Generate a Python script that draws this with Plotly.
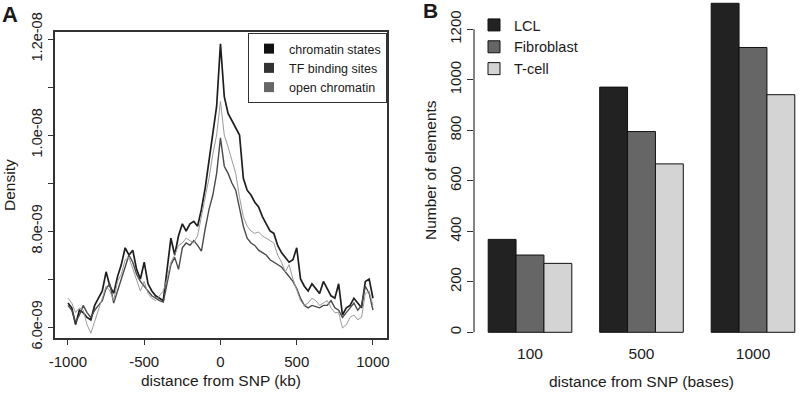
import numpy as np
import plotly.graph_objects as go

# ---------------- Panel A data (density, in units of 1e-9) ----------------
distance_kb = list(range(-1000, 1001, 25))

density_chromatin_states = [
    6.5, 6.4, 6.05, 6.35, 6.3, 6.2, 6.15, 6.45, 6.6, 6.75,
    7.15, 6.85, 6.7, 7.05, 7.3, 7.65, 7.5, 7.6, 7.2, 7.0,
    7.35, 6.9, 6.75, 6.65, 6.6, 6.55, 7.2, 7.85, 7.5, 7.9,
    8.15, 8.0, 8.15, 8.2, 8.1, 8.45, 8.9, 9.5, 10.1, 10.6,
    11.9,
    10.8, 10.45, 10.3, 10.15, 10.0, 9.1, 8.85, 8.75, 8.6, 8.5,
    8.3, 8.15, 8.0, 7.95, 7.7, 7.55, 7.45, 7.35, 7.4, 7.65,
    7.0, 6.85, 6.75, 6.9, 6.8, 6.7, 6.95, 6.8, 6.65, 6.6,
    6.9, 6.25, 6.4, 6.45, 6.6, 6.5, 6.4, 6.95, 7.0, 6.6,
]

density_open_chromatin = [
    6.6, 6.5, 6.3, 6.4, 6.35, 6.05, 5.87, 6.1, 6.35, 6.6,
    6.85, 6.75, 6.55, 6.95, 7.1, 7.4, 7.45, 7.2, 7.0, 6.75,
    6.95, 6.7, 6.6, 6.55, 6.65, 6.75, 7.0, 7.35, 7.5, 7.7,
    7.75, 7.85, 7.8, 7.75, 7.9, 8.3, 8.7, 9.1, 9.6, 10.0,
    10.7,
    10.0, 9.75, 9.5, 9.2, 8.7, 8.3, 8.1, 8.0, 7.95, 7.98,
    7.9, 7.85, 7.8, 7.75, 7.5, 7.35, 7.15, 7.3, 7.0, 6.75,
    6.55, 6.45, 6.5, 6.6, 6.55, 6.45, 6.5, 6.55, 6.4, 6.3,
    6.3, 5.98, 6.05, 6.2, 6.25, 6.15, 6.2, 6.7, 6.75, 6.45,
]

density_tf_binding_sites = [
    6.45, 6.35, 6.1, 6.25, 6.45, 6.3, 6.2, 6.35, 6.45, 6.55,
    6.8, 6.9, 6.5, 6.75, 7.05, 7.3, 7.5, 7.35, 7.1, 6.95,
    6.85, 6.75, 6.65, 6.6, 6.55, 6.52, 6.9, 7.3, 7.45, 7.2,
    7.65, 7.75, 7.7, 7.8, 7.7, 7.58, 8.05, 8.45, 8.75, 9.2,
    9.94,
    9.35, 9.2, 9.0, 8.85, 8.5, 8.1, 7.85, 7.75, 7.7, 7.6,
    7.55, 7.5, 7.4, 7.35, 7.3, 7.25, 7.15, 7.05, 6.95, 6.8,
    6.6, 6.45, 6.4, 6.45, 6.42, 6.4, 6.45, 6.45, 6.55, 6.4,
    6.35, 6.2, 6.3, 6.4, 6.5, 6.35, 6.45, 6.85, 6.7, 6.35,
]

density_ticks = [6e-9, 7e-9, 8e-9, 9e-9, 10e-9, 11e-9, 12e-9]
density_tick_labels = ["6.0e-09", "", "8.0e-09", "", "1.0e-08", "", "1.2e-08"]
distance_ticks = [-1000, -500, 0, 500, 1000]
distance_tick_labels = ["-1000", "-500", "0", "500", "1000"]

# ---------------- Panel B data ----------------
distance_bases = ["100", "500", "1000"]
count_lcl = [368, 971, 1303]
count_fibroblast = [306, 795, 1128]
count_tcell = [273, 667, 941]
count_ticks = [0, 200, 400, 600, 800, 1000, 1200]

FONT = "Liberation Sans, Arial, Helvetica, sans-serif"
INK = "#1a1a1a"
W, H = 800, 393


def px_x(p):
    return p / W


def px_y(p):
    return 1 - p / H


fig = go.Figure()

scale = 1e-9
series_a = [
    ("chromatin states", density_chromatin_states, "#1e1e1e", 1.7, "#111111"),
    ("TF binding sites", density_tf_binding_sites, "#4a4a4a", 1.4, "#333333"),
    ("open chromatin", density_open_chromatin, "#9a9a9a", 1.0, "#666666"),
]
for name, vals, col, lw, legcol in series_a:
    fig.add_trace(go.Scatter(
        x=distance_kb, y=[v * scale for v in vals], mode="lines",
        line=dict(color=col, width=lw), showlegend=False,
        xaxis="x", yaxis="y", name=name,
    ))
for name, vals, col, lw, legcol in series_a:
    fig.add_trace(go.Scatter(
        x=[None], y=[None], mode="markers", name=name,
        marker=dict(symbol="square", size=10, color=legcol),
        xaxis="x", yaxis="y", legend="legend",
    ))

for name, vals, col in [("LCL", count_lcl, "#222222"),
                        ("Fibroblast", count_fibroblast, "#666666"),
                        ("T-cell", count_tcell, "#d4d4d4")]:
    fig.add_trace(go.Bar(
        x=distance_bases, y=vals, name=name,
        marker=dict(color=col, line=dict(color="#111111", width=1)),
        xaxis="x2", yaxis="y2", legend="legend2",
    ))

# Panel B geometry: 0 at py 332.3, 303 px per 1200 units
b_bottom_px = 342
b_zero_px = 332.3
b_ppu = 303 / 1200
b_left_px = 474
cat0_px = 530
cat_w = 111.5

fig.update_layout(
    width=W, height=H,
    margin=dict(l=0, r=0, t=0, b=0, pad=0, autoexpand=False),
    paper_bgcolor="white", plot_bgcolor="white",
    font=dict(family=FONT, color=INK, size=15),
    barmode="group", bargap=0.25, bargroupgap=0,
    xaxis=dict(
        domain=[px_x(55), px_x(387)], range=[-1085, 1092],
        tickvals=distance_ticks, ticktext=distance_tick_labels,
        ticks="outside", ticklen=5,
        tickcolor="#333", tickwidth=1.2,
        showline=True, mirror=True, linecolor="#333", linewidth=1.5,
        showgrid=False, zeroline=False, tickfont=dict(size=15),
        anchor="y", ticklabelstandoff=4,
    ),
    yaxis=dict(
        domain=[px_y(338), px_y(32)], range=[5.771e-9, 12.146e-9],
        tickvals=density_ticks, ticktext=density_tick_labels,
        tickangle=-90, ticks="outside", ticklen=5, tickcolor="#333",
        tickwidth=1.2,
        showline=True, mirror=True, linecolor="#333", linewidth=1.5,
        showgrid=False, zeroline=False, tickfont=dict(size=14.5),
        anchor="x",
    ),
    xaxis2=dict(
        domain=[px_x(b_left_px), 1.0],
        range=[(b_left_px - cat0_px) / cat_w, (W - cat0_px) / cat_w],
        type="category", showline=False, ticks="", showgrid=False,
        zeroline=False, tickfont=dict(size=15.5), anchor="y2",
    ),
    yaxis2=dict(
        domain=[px_y(b_bottom_px), 1.0],
        range=[-(b_bottom_px - b_zero_px) / b_ppu, b_zero_px / b_ppu],
        tickvals=count_ticks, tickangle=-90, ticks="outside", ticklen=6,
        tickcolor="#333", tickwidth=1.2,
        showline=False, showgrid=False, zeroline=False,
        tickfont=dict(size=15), anchor="x2",
    ),
    legend=dict(
        x=px_x(387), xanchor="right", y=px_y(33), yanchor="top",
        bordercolor="#333", borderwidth=1, bgcolor="white",
        font=dict(size=12.5, color=INK),
    ),
    legend2=dict(
        x=px_x(474), xanchor="left", y=px_y(9), yanchor="top",
        bgcolor="rgba(0,0,0,0)", borderwidth=0,
        font=dict(size=14.5, color=INK),
    ),
    showlegend=True,
)

# Panel B y-axis line spanning first to last tick (R style)
fig.add_shape(type="line", xref="x2 domain", yref="y2",
              x0=0, x1=0, y0=count_ticks[0], y1=count_ticks[-1],
              line=dict(color="#333", width=1.2))

annotations = [
    dict(text="<b>A</b>", x=px_x(10), y=px_y(15), size=22, angle=0),
    dict(text="<b>B</b>", x=px_x(430), y=px_y(11), size=21, angle=0),
    dict(text="distance from SNP (kb)", x=px_x(221), y=px_y(380), size=15.5, angle=0),
    dict(text="Density", x=px_x(10), y=px_y(185), size=15.5, angle=-90),
    dict(text="distance from SNP (bases)", x=px_x(641), y=px_y(381), size=15.5, angle=0),
    dict(text="Number of elements", x=px_x(430), y=px_y(170), size=15.5, angle=-90),
]
for a in annotations:
    fig.add_annotation(
        text=a["text"], x=a["x"], y=a["y"], xref="paper", yref="paper",
        showarrow=False, textangle=a["angle"], xanchor="center", yanchor="middle",
        font=dict(size=a["size"], family=FONT, color=INK),
    )

fig.write_html(
    "out.html",
    config={"displayModeBar": False},
    post_script="document.body.style.margin='0';document.body.style.overflow='hidden';",
)
